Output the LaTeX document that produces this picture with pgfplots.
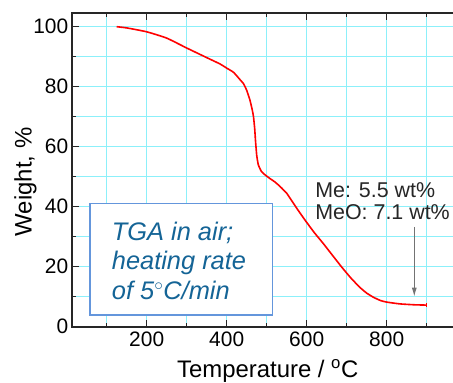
\documentclass[border=0pt]{standalone}
\usepackage{pgfplots}
\pgfplotsset{compat=1.18}
\usepackage{fontspec}
\setmainfont{Liberation Sans}
\usetikzlibrary{arrows.meta}
\definecolor{gridc}{RGB}{140,240,250}
\definecolor{boxc}{RGB}{100,150,220}
\definecolor{txtc}{RGB}{20,100,150}
\begin{document}
\begin{tikzpicture}
\begin{axis}[
  at={(71.7bp,56.3bp)}, anchor=south west,
  scale only axis, width=392bp, height=313.4bp,
  xmin=12.5, xmax=992.5, ymin=0, ymax=104.47,
  xtick={200,400,600,800}, minor xtick={100,300,500,700,900},
  ytick={0,20,40,60,80,100}, minor ytick={10,30,50,70,90},
  grid=both,
  major grid style={gridc, line width=1bp},
  minor grid style={gridc, line width=1bp},
  axis line style={line width=1.6bp, black!85},
  major tick length=7bp, minor tick length=4bp,
  every tick/.style={black!85, line width=1.2bp},
  tick label style={font=\fontsize{21}{25}\selectfont},
  /pgf/number format/assume math mode=true,
  xticklabel style={yshift=-2bp},
  xlabel={Temperature / \textsuperscript{o}C},
  ylabel={Weight, \%},
  every axis x label/.style={at={(rel axis cs:0.5,-0.1605)}, anchor=base, font=\fontsize{24}{28}\selectfont},
  every axis y label/.style={at={(rel axis cs:-0.1020,0.462)}, anchor=base, rotate=90, font=\fontsize{24}{28}\selectfont},
]
\addplot[red, line width=1.6bp, smooth, tension=0.3, line join=round] coordinates {
(125,100) (150,99.6) (200,98.3) (250,96.2) (300,92.9) (350,89.7) (383,87.6)
(400,86.2) (417,84.8) (433,82.4) (442,81.0) (450,78.8) (458,75.6) (464,72.2)
(467,70) (470,66) (472,62) (475,57.2) (479,54) (487,51.7) (497,50.5) (508,49.4)
(520,48.3) (533,46.8) (550,44.5) (558,42.9) (575,39.5) (596,35.5) (620,31.2)
(641,27.8) (665,23.7) (688,19.8) (710,16.3) (733,13.1) (750,11.2) (767,9.8)
(785,8.7) (800,8.2) (833,7.6) (870,7.3) (900,7.2)
};
\addplot[red, only marks, mark=|, mark size=2bp, line width=1.2bp] coordinates {(900,7.2)};
\draw[boxc, line width=1.3bp, fill=white] (axis cs:58,3.9) rectangle (axis cs:515,41.1);
\node[anchor=north west, inner sep=0, align=left, text=txtc, font=\fontsize{25.5}{29.5}\selectfont\itshape] at (axis cs:112.5,35.0) {TGA in air;\\heating rate\\of 5$^\circ$C/min};
\node[anchor=base west, inner sep=0, text=black!85, font=\fontsize{21.5}{25}\selectfont] at (axis cs:621,43) {Me: 5.5 wt\%};
\node[anchor=base west, inner sep=0, text=black!85, font=\fontsize{21.5}{25}\selectfont] at (axis cs:621,35.8) {MeO: 7.1 wt\%};
\draw[black!55, line width=1.1bp, -{Latex[length=9bp,width=5bp]}] (axis cs:869,33.3) -- (axis cs:869,10);
\end{axis}
\pgfresetboundingbox
\useasboundingbox (0,0) rectangle (453bp,383bp);
\end{tikzpicture}
\end{document}
